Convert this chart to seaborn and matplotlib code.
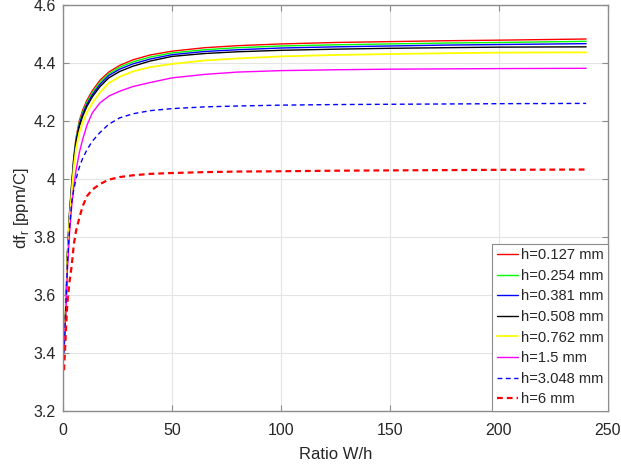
import matplotlib
matplotlib.use("Agg")
import matplotlib.pyplot as plt
import matplotlib.ticker as mticker
import seaborn as sns

# ---------------- data ----------------
ratio = [0.5, 1, 1.5, 2, 3, 4, 5, 6, 7.5, 9, 11, 13.5, 17, 21, 26, 32, 40, 50,
         65, 80, 100, 125, 150, 175, 200, 240]

h_0127 = [3.42, 3.51, 3.60, 3.74, 3.885, 3.985, 4.08, 4.142, 4.20, 4.236, 4.271, 4.304,
          4.34, 4.368, 4.391, 4.41, 4.427, 4.44, 4.452, 4.459, 4.465, 4.47, 4.473,
          4.476, 4.478, 4.482]
h_0254 = [3.42, 3.505, 3.595, 3.735, 3.88, 3.98, 4.075, 4.136, 4.193, 4.229, 4.264, 4.297,
          4.333, 4.362, 4.385, 4.403, 4.42, 4.434, 4.445, 4.452, 4.458, 4.462, 4.465,
          4.468, 4.47, 4.474]
h_0381 = [3.42, 3.50, 3.59, 3.73, 3.875, 3.975, 4.07, 4.13, 4.186, 4.222, 4.257, 4.29,
          4.326, 4.356, 4.378, 4.396, 4.413, 4.428, 4.439, 4.445, 4.451, 4.455, 4.458,
          4.461, 4.463, 4.466]
h_0508 = [3.42, 3.50, 3.59, 3.73, 3.87, 3.97, 4.065, 4.125, 4.18, 4.215, 4.25, 4.283,
          4.318, 4.348, 4.37, 4.388, 4.406, 4.422, 4.432, 4.438, 4.443, 4.447, 4.45,
          4.452, 4.454, 4.455]
h_0762 = [3.42, 3.50, 3.585, 3.72, 3.86, 3.955, 4.045, 4.105, 4.16, 4.195, 4.23, 4.262,
          4.298, 4.33, 4.352, 4.37, 4.385, 4.396, 4.408, 4.415, 4.422, 4.427, 4.43,
          4.433, 4.435, 4.436]
h_15 = [3.42, 3.49, 3.57, 3.68, 3.81, 3.905, 3.975, 4.03, 4.09, 4.135, 4.185, 4.228,
        4.262, 4.285, 4.302, 4.318, 4.332, 4.348, 4.36, 4.368, 4.373, 4.376, 4.378,
        4.379, 4.38, 4.381]
h_3048 = [3.40, 3.50, 3.60, 3.70, 3.83, 3.92, 3.965, 4.00, 4.04, 4.07, 4.10, 4.13,
          4.16, 4.188, 4.21, 4.224, 4.235, 4.242, 4.248, 4.251, 4.254, 4.256, 4.257,
          4.258, 4.259, 4.26]
h_6 = [3.34, 3.42, 3.50, 3.57, 3.645, 3.70, 3.775, 3.82, 3.865, 3.905, 3.94, 3.963,
       3.982, 3.997, 4.006, 4.012, 4.017, 4.02, 4.023, 4.025, 4.026, 4.028, 4.029,
       4.03, 4.031, 4.032]

labels = ["h=0.127 mm", "h=0.254 mm", "h=0.381 mm", "h=0.508 mm",
          "h=0.762 mm", "h=1.5 mm", "h=3.048 mm", "h=6 mm"]
series = [h_0127, h_0254, h_0381, h_0508, h_0762, h_15, h_3048, h_6]

x_ticks = [0, 50, 100, 150, 200, 250]
y_ticks = [3.2, 3.4, 3.6, 3.8, 4.0, 4.2, 4.4, 4.6]

# ---------------- style ----------------
sns.set_theme(style="whitegrid")
plt.rcParams['font.family'] = ['Liberation Sans', 'DejaVu Sans']

colors = ["#ff0000", "#00ff00", "#0000ff", "#000000", "#ffff00", "#ff00ff",
          "#0000ff", "#ff0000"]
widths = [1.0, 1.0, 1.0, 1.0, 1.3, 1.0, 1.0, 1.6]
dashed = [False, False, False, False, False, False, True, True]

fig = plt.figure(figsize=(6.21, 4.65), dpi=100)
ax = fig.add_axes([0.1014, 0.1165, 0.8776, 0.8732])

for vals, lab, col, lw, d in zip(series, labels, colors, widths, dashed):
    sns.lineplot(x=ratio, y=vals, ax=ax, color=col, linewidth=lw,
                 label=lab, estimator=None, sort=False)
    ln = ax.get_lines()[-1]
    if d:
        ln.set_dashes((3.5, 2.5) if lw < 1.3 else (2.6, 1.8))

ax.set_xlim(0, 250)
ax.set_ylim(3.2, 4.6)
ax.set_xticks(x_ticks)
ax.set_yticks(y_ticks)
ax.yaxis.set_major_formatter(mticker.FuncFormatter(lambda v, p: f"{v:g}"))

ax.set_facecolor("white")
ax.grid(True, color="#e4e4e4", linewidth=0.8)
for s in ax.spines.values():
    s.set_visible(True)
    s.set_color("#8c8c8c")
    s.set_linewidth(1.0)

ax.tick_params(axis="both", which="both", direction="in", length=4, width=0.8,
               color="#8c8c8c", labelsize=11.5, labelcolor="#262626",
               top=True, right=True, bottom=True, left=True, pad=5)
ax.tick_params(axis="x", pad=9)

ax.set_xlabel("Ratio W/h", fontsize=12, color="#262626", labelpad=6)
ax.set_ylabel(r"df$_\mathregular{r}$ [ppm/C]", fontsize=12, color="#262626", labelpad=2)

leg = ax.legend(loc="lower right", borderaxespad=0.0, fontsize=10.6,
                handlelength=1.45, handletextpad=0.2, labelspacing=0.45,
                borderpad=0.3, frameon=True, fancybox=False)
leg.get_frame().set_edgecolor("#8c8c8c")
leg.get_frame().set_linewidth(0.8)
leg.get_frame().set_facecolor("white")
leg.get_frame().set_alpha(1.0)
for t in leg.get_texts():
    t.set_color("#262626")

fig.savefig("out.png", dpi=100, facecolor="white")
